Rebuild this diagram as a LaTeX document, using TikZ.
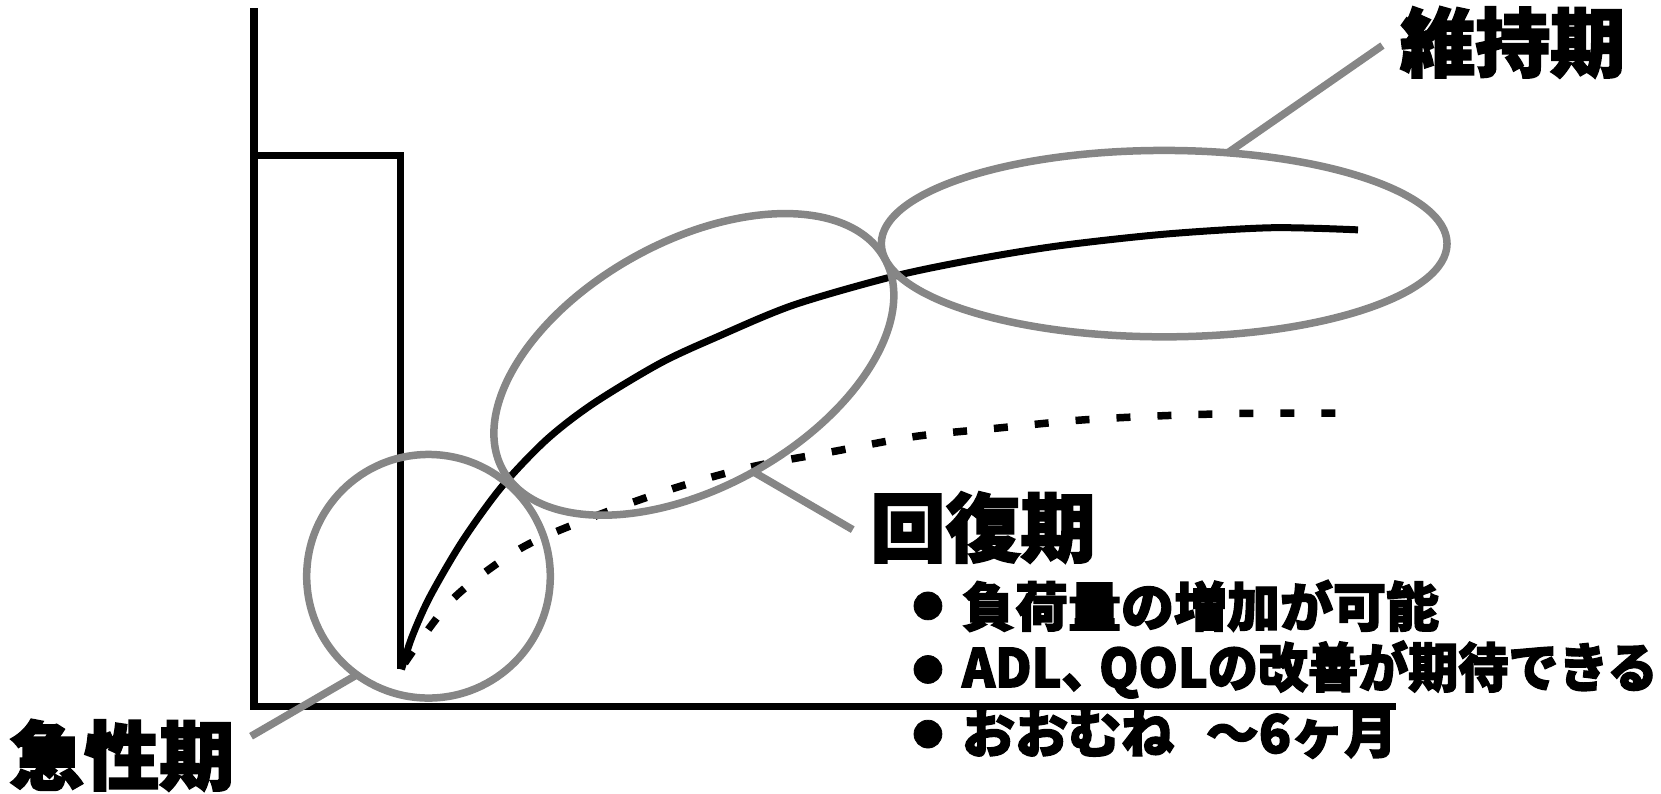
\documentclass[tikz,border=0pt]{standalone}
\usepackage{fontspec}
\newfontfamily\cjk{Noto Sans CJK JP}[BoldFeatures={FakeBold=2.5}]
\usetikzlibrary{shapes.geometric}
\definecolor{hoopgray}{RGB}{134,134,134}
\begin{document}
\begin{tikzpicture}[x=1.0593pt,y=1.0593pt,
  axisline/.style={line width=7.5pt, line join=miter, draw=black},
  solidcurve/.style={line width=7pt, draw=black},
  dashcurve/.style={line width=7.5pt, draw=black, dash pattern=on 14pt off 27pt},
  hoop/.style={draw=hoopgray, line width=7.5pt, inner sep=0pt, outer sep=0pt},
  leader/.style={draw=hoopgray, line width=7.5pt},
  bigtext/.style={font=\cjk\bfseries\fontsize{75}{80}\selectfont, inner sep=0pt},
  smalltext/.style={font=\cjk\bfseries\fontsize{53}{58}\selectfont, inner sep=0pt, anchor=west},
  bulletdot/.style={font=\cjk\bfseries\fontsize{31}{34}\selectfont, inner sep=0pt}
]
\useasboundingbox (0,0) rectangle (1568,749);
% axes and step
\draw[axisline] (240,741) -- (240,82) -- (1318,82);
\draw[axisline] (240,602) -- (378,602) -- (378,117);
% curves
\draw[solidcurve] plot[smooth] coordinates {(379,117) (389,148) (406,186) (437,239) (474,290) (516,334) (560,368) (623,406) (677,431) (749,461) (843,488) (920,504) (1000,517) (1100,528) (1200,534) (1282,532)};
\draw[dashcurve] plot[smooth] coordinates {(382,123) (428,184) (491,231) (560,261) (636,288) (708,308) (788,323) (864,337) (943,345) (1021,352.5) (1099,356.6) (1177,358.8) (1262,359)};
% phase markers
\node[hoop, circle, minimum size=243.6pt] (acute) at (404.5,205) {};
\node[hoop, ellipse, minimum width=436.4pt, minimum height=245.8pt, rotate=29] (recov) at (655,405) {};
\node[hoop, ellipse, minimum width=565.7pt, minimum height=186.4pt] (maint) at (1099,519) {};
% labels
\node[bigtext] (tmaint) at (1428,709) {維持期};
\node[bigtext] (trecov) at (928,251) {回復期};
\node[bigtext] (tacute) at (115,36) {急性期};
\coordinate (lmaint) at (1305,706);
\coordinate (lrecov) at (805,249);
\coordinate (lacute) at (237,54);
\draw[leader] (maint.55) -- (lmaint);
\draw[leader] (recov.south) -- (lrecov);
\draw[leader] (acute.234) -- (lacute);
% bullet list
\node[bulletdot] (b1) at (876,177) {●};
\node[bulletdot] (b2) at (876,117) {●};
\node[bulletdot] (b3) at (876,56) {●};
\node[smalltext] (t1) at (908,177) {負荷量の増加が可能};
\node[smalltext] (t2) at (908,117) {\scalebox{0.945}[1]{ADL\makebox[0.75em][l]{、}QOLの改善が期待できる}};
\node[smalltext] (t3) at (908,56) {おおむね\hspace*{0.6em}～6ヶ月};
\end{tikzpicture}
\end{document}
